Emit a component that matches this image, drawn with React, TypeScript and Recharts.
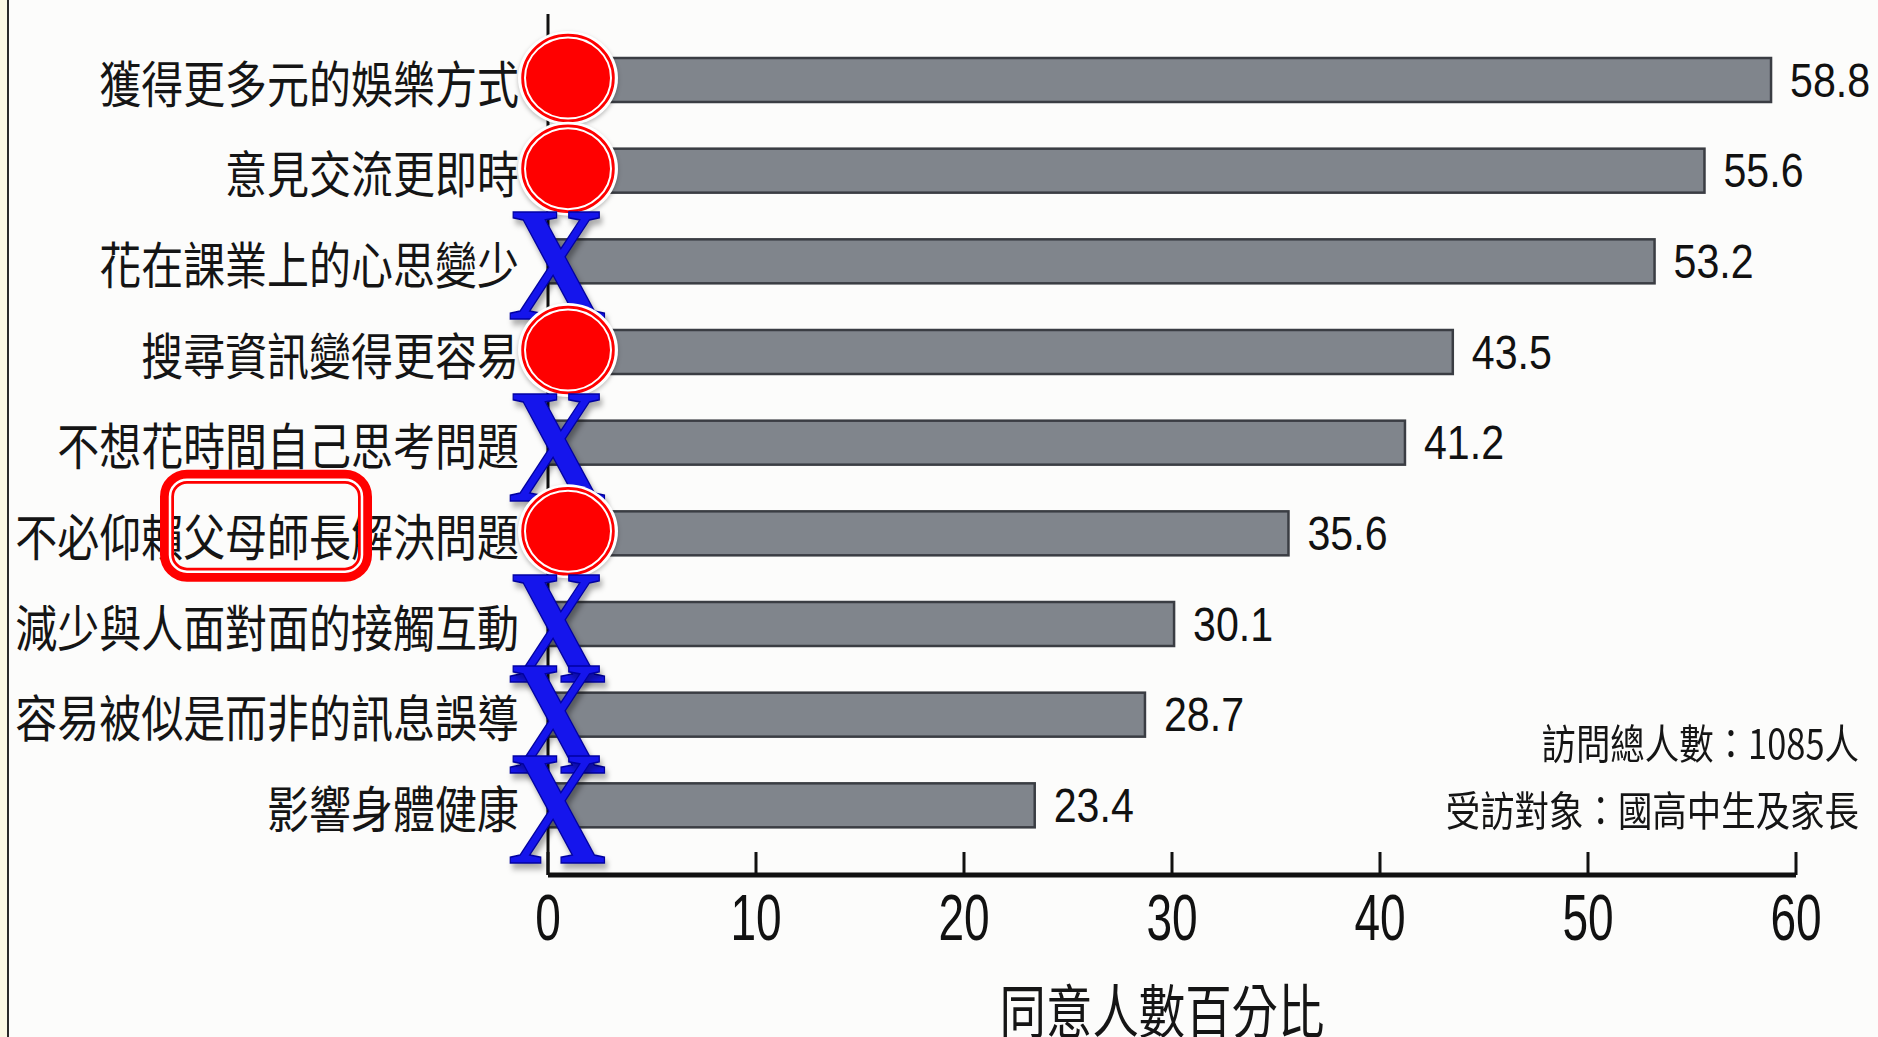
import React from 'react';
import { BarChart, Bar, XAxis, YAxis, LabelList } from 'recharts';

const categories = [
  '獲得更多元的娛樂方式',
  '意見交流更即時',
  '花在課業上的心思變少',
  '搜尋資訊變得更容易',
  '不想花時間自己思考問題',
  '不必仰賴父母師長解決問題',
  '減少與人面對面的接觸互動',
  '容易被似是而非的訊息誤導',
  '影響身體健康',
];
const values = [58.8, 55.6, 53.2, 43.5, 41.2, 35.6, 30.1, 28.7, 23.4];
const marks = ['O', 'O', 'X', 'O', 'X', 'O', 'X', 'X', 'X'];
const highlightWords = ['', '', '', '', '', '父母師長', '', '', ''];
const xTicks = [0, 10, 20, 30, 40, 50, 60];
const axisTitle = '同意人數百分比';
const notes = ['訪問總人數：1085人', '受訪對象：國高中生及家長'];

const data = categories.map((name, i) => ({
  name,
  value: values[i],
  mark: marks[i],
  hl: highlightWords[i],
}));

const CJK = '"Noto Sans CJK TC", "Noto Sans CJK SC", sans-serif';
const NUM = '"Liberation Sans", Arial, sans-serif';
const LABEL_FS = 50;
const LABEL_SX = 0.84;

const YTick = (props: any) => {
  const { x, y, payload, index } = props;
  const name: string = payload.value;
  const hl = highlightWords[index] || '';
  const charW = LABEL_FS * LABEL_SX;
  let box = null;
  if (hl) {
    const start = name.indexOf(hl);
    const n = name.length;
    const left = x - (n - start) * charW - 16;
    const w = hl.length * charW + 30;
    const top = y - 57;
    const h = 98;
    box = (
      <g>
        <rect x={left} y={top} width={w} height={h} rx={20} ry={20} fill="none" stroke="#ff0000" strokeWidth={14} />
        <rect x={left + 3} y={top + 3} width={w - 6} height={h - 6} rx={17} ry={17} fill="none" stroke="#ffffff" strokeWidth={2.5} />
      </g>
    );
  }
  return (
    <g>
      <text
        transform={`translate(${x} ${y}) scale(${LABEL_SX} 1)`}
        textAnchor="end"
        dominantBaseline="central"
        fontFamily={CJK}
        fontSize={LABEL_FS}
        fill="#151515"
      >
        {name}
      </text>
      {box}
    </g>
  );
};

const XTick = (props: any) => {
  const { x, y, payload } = props;
  return (
    <g>
      <line x1={x} y1={y} x2={x} y2={y - 23} stroke="#111" strokeWidth={3} />
      <text
        transform={`translate(${x} ${y + 43}) scale(0.72 1)`}
        textAnchor="middle"
        dominantBaseline="central"
        fontFamily={NUM}
        fontSize={64}
        fill="#111"
      >
        {payload.value}
      </text>
    </g>
  );
};

const BarShape = (props: any) => {
  const { x, y, width, height } = props;
  return <rect x={x} y={y} width={width} height={height} fill="#80858c" stroke="#3a3d43" strokeWidth={2.5} />;
};

const MarkLabel = (props: any) => {
  const { x, y, height, value } = props;
  const cy = y + height / 2;
  if (value === 'O') {
    return (
      <g>
        <ellipse cx={x + 20} cy={cy - 2} rx={50} ry={47} fill="#ffffff" style={{ filter: 'drop-shadow(0px 2px 2px rgba(0,0,0,0.25))' }} />
        <ellipse cx={x + 20} cy={cy - 2} rx={46} ry={43.5} fill="#ff0000" stroke="#ff0000" strokeWidth={1.5} />
        <ellipse cx={x + 20} cy={cy - 2} rx={43} ry={40.5} fill="none" stroke="#ffffff" strokeWidth={2} />
      </g>
    );
  }
  if (value === 'X') {
    return (
      <text
        transform={`translate(${x + 9} ${cy + 58}) scale(0.83 1)`}
        textAnchor="middle"
        fontFamily='"Liberation Serif", "Times New Roman", serif'
        fontWeight="bold"
        fontSize={164}
        fill="#1515ec"
        stroke="#0000a0"
        strokeWidth={1.5}
        style={{ filter: 'drop-shadow(3px 5px 3px rgba(0,0,0,0.35))' }}
      >
        X
      </text>
    );
  }
  return null;
};

const ValueLabel = (props: any) => {
  const { x, y, width, height, value } = props;
  return (
    <text
      transform={`translate(${x + width + 19} ${y + height / 2}) scale(0.84 1)`}
      textAnchor="start"
      dominantBaseline="central"
      fontFamily={NUM}
      fontSize={49}
      fill="#111"
    >
      {value}
    </text>
  );
};

export default function App() {
  return (
    <div
      style={{
        position: 'absolute',
        left: 0,
        top: 0,
        width: 1878,
        height: 1037,
        overflow: 'hidden',
        background: '#fcfcfb',
      }}
    >
      <div style={{ position: 'absolute', left: 0, top: 0, width: 7, height: 1037, background: '#fbf8e4' }} />
      <div style={{ position: 'absolute', left: 7, top: 0, width: 2, height: 1037, background: '#2a2a2a' }} />
      <BarChart
        width={1878}
        height={1037}
        data={data}
        layout="vertical"
        margin={{ top: 14, right: 82, left: 10, bottom: 102 }}
        style={{ position: 'absolute', left: 0, top: 0 }}
      >
        <XAxis
          type="number"
          domain={[0, 60]}
          ticks={xTicks}
          interval={0}
          height={60}
          axisLine={{ stroke: '#111', strokeWidth: 5 }}
          tickLine={false}
          tickSize={0}
          tickMargin={0}
          tick={<XTick />}
        />
        <YAxis
          type="category"
          dataKey="name"
          width={538}
          axisLine={{ stroke: '#111', strokeWidth: 3 }}
          tickLine={false}
          tickSize={0}
          tickMargin={29}
          interval={0}
          padding={{ top: 21, bottom: 24 }}
          tick={<YTick />}
        />
        <Bar dataKey="value" barSize={44} isAnimationActive={false} shape={<BarShape />}>
          <LabelList dataKey="value" content={<ValueLabel />} />
          <LabelList dataKey="mark" content={<MarkLabel />} />
        </Bar>
      </BarChart>
      {notes.map((t, i) => (
        <div
          key={i}
          style={{
            position: 'absolute',
            right: 19,
            top: 716 + i * 67,
            fontFamily: CJK,
            fontSize: 41,
            lineHeight: '50px',
            color: '#151515',
            whiteSpace: 'nowrap',
            transform: 'scaleX(0.84)',
            transformOrigin: 'right center',
          }}
        >
          {t}
        </div>
      ))}
      <div
        style={{
          position: 'absolute',
          left: 1162,
          top: 976,
          fontFamily: CJK,
          fontSize: 58,
          lineHeight: '64px',
          color: '#151515',
          whiteSpace: 'nowrap',
          transform: 'translateX(-50%) scaleX(0.8)',
        }}
      >
        {axisTitle}
      </div>
    </div>
  );
}
